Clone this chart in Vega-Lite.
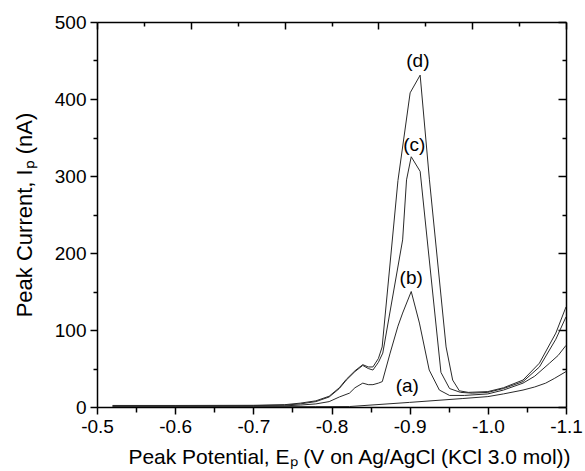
{
  "$schema": "https://vega.github.io/schema/vega-lite/v6.json",
  "width": 469,
  "height": 385,
  "autosize": "none",
  "padding": {"left": 97, "top": 22, "right": 19, "bottom": 64},
  "datasets": {
    "curves": [
      {"curve": "a", "E": -0.52, "I": 0.5}, {"curve": "a", "E": -0.6, "I": 0.5}, {"curve": "a", "E": -0.7, "I": 0.5}, {"curve": "a", "E": -0.78, "I": 0.5}, {"curve": "a", "E": -0.823, "I": 0.6}, {"curve": "a", "E": -0.9, "I": 6}, {"curve": "a", "E": -0.968, "I": 11}, {"curve": "a", "E": -1.0, "I": 13.5}, {"curve": "a", "E": -1.02, "I": 17}, {"curve": "a", "E": -1.045, "I": 22}, {"curve": "a", "E": -1.06, "I": 26}, {"curve": "a", "E": -1.074, "I": 31}, {"curve": "a", "E": -1.085, "I": 37}, {"curve": "a", "E": -1.1, "I": 46},
      {"curve": "b", "E": -0.52, "I": 1}, {"curve": "b", "E": -0.6, "I": 1}, {"curve": "b", "E": -0.7, "I": 1.2}, {"curve": "b", "E": -0.74, "I": 1.5}, {"curve": "b", "E": -0.76, "I": 2.5}, {"curve": "b", "E": -0.78, "I": 4}, {"curve": "b", "E": -0.797, "I": 7}, {"curve": "b", "E": -0.81, "I": 13}, {"curve": "b", "E": -0.823, "I": 18}, {"curve": "b", "E": -0.83, "I": 25}, {"curve": "b", "E": -0.84, "I": 31}, {"curve": "b", "E": -0.847, "I": 29}, {"curve": "b", "E": -0.853, "I": 29}, {"curve": "b", "E": -0.86, "I": 31}, {"curve": "b", "E": -0.865, "I": 33}, {"curve": "b", "E": -0.875, "I": 70}, {"curve": "b", "E": -0.885, "I": 105}, {"curve": "b", "E": -0.891, "I": 122}, {"curve": "b", "E": -0.902, "I": 150}, {"curve": "b", "E": -0.9125, "I": 109}, {"curve": "b", "E": -0.925, "I": 48}, {"curve": "b", "E": -0.938, "I": 22}, {"curve": "b", "E": -0.951, "I": 15}, {"curve": "b", "E": -0.97, "I": 15}, {"curve": "b", "E": -1.0, "I": 17}, {"curve": "b", "E": -1.02, "I": 22}, {"curve": "b", "E": -1.045, "I": 31}, {"curve": "b", "E": -1.06, "I": 40}, {"curve": "b", "E": -1.079, "I": 57}, {"curve": "b", "E": -1.09, "I": 67}, {"curve": "b", "E": -1.1, "I": 80},
      {"curve": "c", "E": -0.52, "I": 1.5}, {"curve": "c", "E": -0.6, "I": 1.5}, {"curve": "c", "E": -0.7, "I": 1.8}, {"curve": "c", "E": -0.74, "I": 2.5}, {"curve": "c", "E": -0.76, "I": 4}, {"curve": "c", "E": -0.78, "I": 7}, {"curve": "c", "E": -0.797, "I": 13}, {"curve": "c", "E": -0.81, "I": 24}, {"curve": "c", "E": -0.819, "I": 35}, {"curve": "c", "E": -0.83, "I": 46}, {"curve": "c", "E": -0.84, "I": 54}, {"curve": "c", "E": -0.847, "I": 50}, {"curve": "c", "E": -0.853, "I": 48}, {"curve": "c", "E": -0.86, "I": 58}, {"curve": "c", "E": -0.8656, "I": 70}, {"curve": "c", "E": -0.891, "I": 217}, {"curve": "c", "E": -0.896, "I": 295}, {"curve": "c", "E": -0.902, "I": 325}, {"curve": "c", "E": -0.9134, "I": 306}, {"curve": "c", "E": -0.94, "I": 45}, {"curve": "c", "E": -0.951, "I": 24}, {"curve": "c", "E": -0.965, "I": 19}, {"curve": "c", "E": -0.98, "I": 18}, {"curve": "c", "E": -1.0, "I": 19}, {"curve": "c", "E": -1.02, "I": 24}, {"curve": "c", "E": -1.045, "I": 33}, {"curve": "c", "E": -1.066, "I": 52}, {"curve": "c", "E": -1.087, "I": 88}, {"curve": "c", "E": -1.1, "I": 117},
      {"curve": "d", "E": -0.52, "I": 2}, {"curve": "d", "E": -0.6, "I": 2}, {"curve": "d", "E": -0.7, "I": 2.2}, {"curve": "d", "E": -0.74, "I": 3}, {"curve": "d", "E": -0.76, "I": 5}, {"curve": "d", "E": -0.78, "I": 8}, {"curve": "d", "E": -0.797, "I": 14}, {"curve": "d", "E": -0.81, "I": 25}, {"curve": "d", "E": -0.819, "I": 36}, {"curve": "d", "E": -0.83, "I": 47}, {"curve": "d", "E": -0.84, "I": 55}, {"curve": "d", "E": -0.847, "I": 52}, {"curve": "d", "E": -0.853, "I": 52}, {"curve": "d", "E": -0.86, "I": 63}, {"curve": "d", "E": -0.8648, "I": 78}, {"curve": "d", "E": -0.885, "I": 294}, {"curve": "d", "E": -0.9006, "I": 408}, {"curve": "d", "E": -0.9134, "I": 431}, {"curve": "d", "E": -0.9253, "I": 295}, {"curve": "d", "E": -0.9466, "I": 78}, {"curve": "d", "E": -0.955, "I": 35}, {"curve": "d", "E": -0.9636, "I": 21}, {"curve": "d", "E": -0.975, "I": 19}, {"curve": "d", "E": -1.0, "I": 20}, {"curve": "d", "E": -1.02, "I": 25}, {"curve": "d", "E": -1.045, "I": 35}, {"curve": "d", "E": -1.066, "I": 57}, {"curve": "d", "E": -1.087, "I": 96}, {"curve": "d", "E": -1.1, "I": 130}
    ],
    "labels": [
      {"label": "(a)", "E": -0.897, "I": 27},
      {"label": "(b)", "E": -0.902, "I": 167},
      {"label": "(c)", "E": -0.906, "I": 340},
      {"label": "(d)", "E": -0.9105, "I": 450}
    ]
  },
  "layer": [
    {
      "data": {"name": "curves"},
      "mark": {"type": "line", "stroke": "#2a2a2a", "strokeWidth": 1, "clip": true},
      "encoding": {
        "x": {"field": "E", "type": "quantitative",
          "scale": {"domain": [-1.1, -0.5], "reverse": true, "nice": false, "zero": false},
          "axis": {"orient": "bottom", "values": [-0.5, -0.6, -0.7, -0.8, -0.9, -1.0, -1.1],
            "labelExpr": "'-' + format(-datum.value, '.1f')",
            "tickSize": 7, "tickWidth": 1.5, "domainWidth": 1.5, "labelFontSize": 19, "labelPadding": 3,
            "labelFlush": false, "labelOverlap": false,
            "title": "Peak Potential, Eₚ (V on Ag/AgCl (KCl 3.0 mol))", "titleFontSize": 21, "titlePadding": 10, "titleX": 252}},
        "y": {"field": "I", "type": "quantitative",
          "scale": {"domain": [0, 500], "nice": false, "zero": true},
          "axis": {"orient": "left", "values": [0, 100, 200, 300, 400, 500],
            "tickSize": 7, "tickWidth": 1.5, "domainWidth": 1.5, "labelFontSize": 19, "labelPadding": 4,
            "labelFlush": false, "labelOverlap": false,
            "title": "Peak Current, Iₚ (nA)", "titleFontSize": 22, "titlePadding": 18}},
        "detail": {"field": "curve", "type": "nominal"}
      }
    },
    {
      "data": {"name": "labels"},
      "mark": {"type": "text", "fontSize": 19, "font": "Liberation Sans", "color": "black", "baseline": "middle", "align": "center"},
      "encoding": {
        "x": {"field": "E", "type": "quantitative",
          "axis": {"orient": "bottom", "values": [-0.55, -0.65, -0.75, -0.85, -0.95, -1.05], "tickSize": 5, "tickWidth": 1.5, "domain": false, "labels": false, "title": null}},
        "y": {"field": "I", "type": "quantitative",
          "axis": {"orient": "left", "values": [50, 150, 250, 350, 450], "tickSize": 4, "tickWidth": 1.5, "domain": false, "labels": false, "title": null}},
        "text": {"field": "label"}
      }
    },
    {
      "data": {"name": "labels"},
      "mark": {"type": "point", "opacity": 0},
      "encoding": {
        "x": {"field": "E", "type": "quantitative",
          "axis": {"orient": "top", "values": [-0.5, -0.62, -0.74, -0.86, -0.98, -1.1], "tickSize": -7, "tickWidth": 1.5, "domainWidth": 1.5, "labels": false, "title": null}},
        "y": {"field": "I", "type": "quantitative",
          "axis": {"orient": "right", "values": [0, 100, 200, 300, 400, 500], "tickSize": -8, "tickWidth": 1.5, "domainWidth": 1.5, "labels": false, "title": null}}
      }
    },
    {
      "data": {"name": "labels"},
      "mark": {"type": "point", "opacity": 0},
      "encoding": {
        "x": {"field": "E", "type": "quantitative",
          "axis": {"orient": "top", "values": [-0.56, -0.68, -0.8, -0.92, -1.04], "tickSize": -4, "tickWidth": 1.5, "domain": false, "labels": false, "title": null}},
        "y": {"field": "I", "type": "quantitative",
          "axis": {"orient": "right", "values": [50, 150, 250, 350, 450], "tickSize": -4, "tickWidth": 1.5, "domain": false, "labels": false, "title": null}}
      }
    }
  ],
  "resolve": {"axis": {"x": "independent", "y": "independent"}},
  "config": {
    "view": {"stroke": null},
    "font": "Liberation Sans",
    "axis": {"grid": false, "domainColor": "black", "tickColor": "black", "labelColor": "black", "titleColor": "black",
      "labelFont": "Liberation Sans", "titleFont": "Liberation Sans", "labelFontWeight": "normal", "titleFontWeight": "normal"}
  }
}
